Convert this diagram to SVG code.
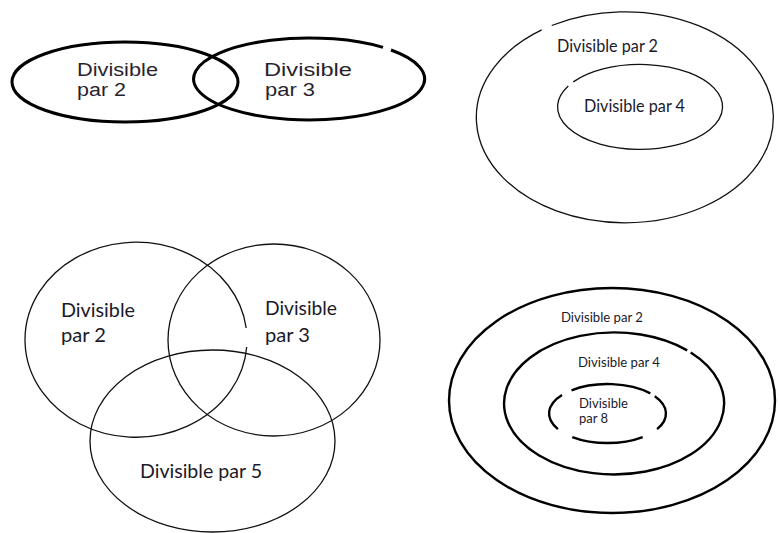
<svg xmlns="http://www.w3.org/2000/svg" width="780" height="533" viewBox="0 0 780 533">
<style>
  .bg { fill: #ffffff; }
  .thick { fill: none; stroke: #000; stroke-width: 3; }
  .thin { fill: none; stroke: #111; stroke-width: 1.3; }
  .med { fill: none; stroke: #000; stroke-width: 2.4; }
  .t1 { font-family: "Liberation Sans", Arial, sans-serif; font-size: 18px; fill: #2a1f2e; }
  .t2 { font-family: Lato, "Open Sans", sans-serif; fill: #1a1a2a; }
</style>
<rect class="bg" x="0" y="0" width="780" height="533"/>

<g id="venn2">
  <g id="v2-div2">
    <ellipse class="thick" cx="125" cy="82" rx="113" ry="40"/>
    <text class="t1" x="77" y="75.5" textLength="81" lengthAdjust="spacingAndGlyphs">Divisible</text>
    <text class="t1" x="77" y="96" textLength="49" lengthAdjust="spacingAndGlyphs">par 2</text>
  </g>
  <g id="v2-div3">
    <path class="thick" d="M 391 50 A 115.5 41 0 1 1 383 47.4"/>
    <text class="t1" x="264" y="75.5" textLength="88" lengthAdjust="spacingAndGlyphs">Divisible</text>
    <text class="t1" x="265" y="96" textLength="50" lengthAdjust="spacingAndGlyphs">par 3</text>
  </g>
</g>

<g id="nested2">
  <g id="n2-div2">
    <path class="thin" d="M 551.7 25.5 A 148.5 105.5 0 1 1 541.7 29.9"/>
    <text class="t2" x="557" y="52" font-size="16.5" textLength="101" lengthAdjust="spacingAndGlyphs">Divisible par 2</text>
  </g>
  <g id="n2-div4">
    <path class="thin" d="M 573.3 81.9 A 82.5 42.5 0 1 1 568.3 85.9"/>
    <text class="t2" x="584" y="112" font-size="16.5" textLength="101" lengthAdjust="spacingAndGlyphs">Divisible par 4</text>
  </g>
</g>

<g id="venn3">
  <g id="v3-div2">
    <path class="thin" d="M 246.7 347 A 111 97.5 0 1 1 246.2 328"/>
    <text class="t2" x="61" y="317" font-size="20" textLength="74" lengthAdjust="spacingAndGlyphs">Divisible</text>
    <text class="t2" x="61" y="342" font-size="20" textLength="45" lengthAdjust="spacingAndGlyphs">par 2</text>
  </g>
  <g id="v3-div3">
    <ellipse class="thin" cx="274" cy="340" rx="106" ry="96"/>
    <text class="t2" x="265" y="315" font-size="20" textLength="72" lengthAdjust="spacingAndGlyphs">Divisible</text>
    <text class="t2" x="265" y="342" font-size="20" textLength="45" lengthAdjust="spacingAndGlyphs">par 3</text>
  </g>
  <g id="v3-div5">
    <ellipse class="thin" cx="212.5" cy="441" rx="122.5" ry="91"/>
    <text class="t2" x="140" y="478" font-size="20" textLength="122" lengthAdjust="spacingAndGlyphs">Divisible par 5</text>
  </g>
</g>

<g id="nested3">
  <g id="n3-div2">
    <ellipse class="med" cx="612" cy="400.5" rx="163" ry="112.5"/>
    <text class="t2" x="561" y="322" font-size="13" textLength="82" lengthAdjust="spacingAndGlyphs">Divisible par 2</text>
  </g>
  <g id="n3-div4">
    <path class="med" d="M 690.7 352.5 A 110 71 0 1 1 687.2 350.4"/>
    <text class="t2" x="578" y="367" font-size="13" textLength="82" lengthAdjust="spacingAndGlyphs">Divisible par 4</text>
  </g>
  <g id="n3-div8">
    <path class="med" d="M 571.5 390.3 A 58.5 29.5 0 0 1 650.3 393.4 M 654.8 396.2 A 58.5 29.5 0 0 1 657.1 429.1 M 642.7 437.1 A 58.5 29.5 0 0 1 572.3 437.1 M 557.9 429.1 A 58.5 29.5 0 0 1 562.0 395.0"/>
    <text class="t2" x="579" y="408" font-size="13" textLength="49" lengthAdjust="spacingAndGlyphs">Divisible</text>
    <text class="t2" x="579" y="423" font-size="13" textLength="29" lengthAdjust="spacingAndGlyphs">par 8</text>
  </g>
</g>
</svg>
